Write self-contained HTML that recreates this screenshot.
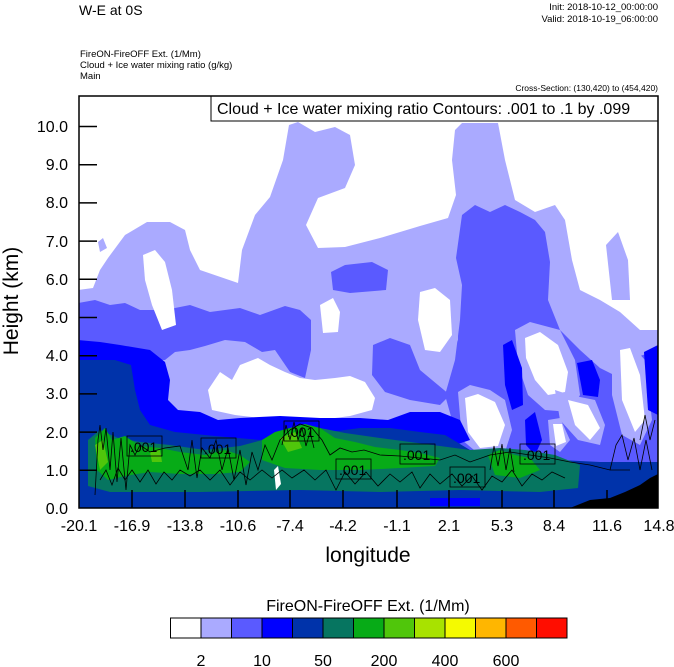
<!DOCTYPE html>
<html><head><meta charset="utf-8"><style>
html,body{margin:0;padding:0;background:#fff;}
svg{display:block;font-family:"Liberation Sans",sans-serif;}
</style></head><body>
<svg width="674" height="667" viewBox="0 0 674 667" xmlns="http://www.w3.org/2000/svg">
<defs><clipPath id="c"><rect x="79" y="96" width="579" height="412"/></clipPath></defs>
<text x="79" y="15" font-size="14">W-E at 0S</text>
<text x="658" y="10" font-size="9.5" text-anchor="end">Init: 2018-10-12_00:00:00</text>
<text x="658" y="22" font-size="9.5" text-anchor="end">Valid: 2018-10-19_06:00:00</text>
<text x="80" y="57" font-size="9.5">FireON-FireOFF Ext.   (1/Mm)</text>
<text x="80" y="68" font-size="9.5">Cloud + Ice water mixing ratio   (g/kg)</text>
<text x="80" y="79" font-size="9.5">Main</text>
<text x="658" y="91" font-size="8.5" text-anchor="end">Cross-Section: (130,420) to (454,420)</text>
<g clip-path="url(#c)">
<rect x="79" y="96" width="579" height="412" fill="#fff"/>
<!-- lavender -->
<path fill="#aaaaff" d="M78,290 L93,288 L100,270 L108,258 L125,235 L147,222 L170,222 L185,230 L190,250 L200,270 L238,283 L242,250 L255,215 L270,197 L283,160 L289,125 L298,122 L315,132 L335,127 L350,135 L355,165 L345,188 L318,198 L306,225 L318,248 L345,247 L380,238 L420,226 L448,218 L456,195 L452,160 L455,130 L462,123 L498,123 L505,160 L515,200 L535,212 L555,205 L565,220 L572,260 L580,290 L600,300 L620,312 L640,330 L658,330 L658,508 L78,508 Z"/>
<path fill="#aaaaff" d="M606,245 L618,232 L628,260 L630,300 L612,300 Z"/>
<path fill="#aaaaff" d="M98,242 L103,238 L107,248 L100,252 Z"/>
<!-- medium blue -->
<path fill="#5a5aff" d="M78,303 L95,300 L110,305 L125,303 L140,310 L165,310 L190,305 L210,312 L240,308 L260,315 L285,306 L300,310 L311,320 L311,350 L305,378 L290,372 L275,350 L262,352 L245,342 L225,340 L205,346 L190,350 L175,352 L165,360 L78,360 Z"/>
<path fill="#5a5aff" d="M331,272 L345,265 L372,262 L388,270 L386,290 L350,293 L333,290 Z"/>
<path fill="#5a5aff" d="M462,215 L475,205 L490,212 L505,205 L520,212 L535,220 L545,232 L550,262 L548,300 L560,330 L580,350 L600,368 L620,378 L640,356 L658,350 L658,470 L460,470 L452,420 L445,395 L455,360 L460,320 L462,285 L456,258 Z"/>
<path fill="#5a5aff" d="M373,345 L390,338 L410,345 L420,370 L438,385 L450,395 L440,405 L410,400 L385,392 L372,375 Z"/>
<!-- lavender/white holes in right -->
<path fill="#aaaaff" d="M412,282 L425,275 L445,285 L458,300 L458,340 L448,360 L425,362 L410,345 Z"/>
<path fill="#fff" d="M420,292 L435,288 L450,300 L452,335 L440,352 L425,350 L418,320 Z"/>
<path fill="#aaaaff" d="M515,330 L530,322 L560,330 L575,360 L580,395 L570,412 L545,410 L528,395 L518,365 Z"/>
<path fill="#fff" d="M525,338 L540,332 L558,345 L568,372 L565,392 L548,395 L535,380 L526,358 Z"/>
<path fill="#aaaaff" d="M555,390 L570,395 L595,400 L605,425 L600,445 L578,440 L560,420 Z"/>
<path fill="#fff" d="M568,400 L588,405 L600,428 L590,440 L575,425 Z"/>
<path fill="#aaaaff" d="M612,340 L625,338 L645,360 L652,420 L640,445 L622,435 L612,395 Z"/>
<path fill="#fff" d="M620,350 L630,348 L640,375 L645,420 L635,432 L622,400 Z"/>
<path fill="#aaaaff" d="M458,392 L470,385 L490,390 L505,400 L512,430 L505,452 L480,455 L462,440 Z"/>
<path fill="#fff" d="M465,398 L478,394 L495,402 L505,425 L498,446 L480,448 L468,432 Z"/>
<path fill="#aaaaff" d="M548,420 L560,418 L570,440 L560,452 L550,445 Z"/>
<path fill="#fff" d="M553,424 L562,424 L566,442 L556,446 Z"/>
<path fill="#0000ff" d="M503,345 L512,340 L522,368 L523,405 L512,410 L505,385 Z"/>
<path fill="#0000ff" d="M577,363 L592,360 L600,380 L598,397 L583,395 Z"/>
<path fill="#0000ff" d="M644,352 L658,345 L658,415 L648,410 Z"/>
<path fill="#0000ff" d="M525,420 L535,412 L542,440 L535,455 L526,445 Z"/>
<!-- left-center white holes -->
<path fill="#fff" d="M143,255 L155,250 L165,262 L172,290 L176,325 L162,330 L152,305 L145,280 Z"/>
<path fill="#aaaaff" d="M160,365 L178,355 L200,350 L225,345 L245,348 L262,356 L275,352 L290,372 L305,380 L320,385 L340,382 L360,380 L378,392 L385,410 L380,420 L340,425 L300,425 L250,420 L200,418 L175,412 L163,395 Z"/>
<path fill="#fff" d="M208,390 L220,372 L232,380 L240,365 L258,358 L270,365 L285,372 L300,378 L315,380 L335,378 L350,376 L365,382 L375,398 L372,410 L350,416 L320,420 L290,422 L260,418 L235,415 L212,410 Z"/>
<path fill="#fff" d="M320,305 L333,298 L340,312 L338,332 L323,333 Z"/>
<!-- blue -->
<path fill="#0000ff" d="M78,340 L100,342 L120,345 L150,350 L165,362 L170,380 L168,400 L178,410 L200,412 L218,420 L240,418 L280,416 L320,418 L360,418 L388,420 L410,412 L440,412 L460,420 L470,440 L440,450 L200,455 L78,455 Z"/>
<!-- dark blue -->
<path fill="#0033aa" d="M78,360 L115,360 L131,365 L135,390 L140,410 L150,425 L175,432 L215,436 L260,440 L300,438 L330,432 L360,428 L390,428 L420,432 L445,435 L470,450 L500,455 L530,458 L560,460 L600,462 L658,462 L658,508 L78,508 Z"/>
<!-- teal -->
<path fill="#067560" d="M88,440 L100,430 L118,438 L140,442 L170,445 L205,450 L240,446 L270,438 L295,430 L320,428 L345,433 L380,438 L410,442 L440,446 L470,450 L500,448 L525,450 L555,455 L580,465 L578,488 L540,492 L460,490 L380,492 L300,490 L200,492 L110,492 L88,486 Z"/>
<!-- green -->
<path fill="#07ab17" d="M95,438 L105,428 L112,440 L125,436 L140,446 L160,448 L180,452 L205,455 L225,450 L240,455 L250,462 L240,472 L215,474 L180,474 L150,472 L125,476 L108,480 L97,470 Z"/>
<path fill="#07ab17" d="M262,440 L275,432 L290,428 L305,424 L320,428 L335,438 L355,442 L375,447 L400,450 L420,453 L440,458 L435,466 L400,468 L360,470 L320,470 L285,468 L262,460 Z"/>
<path fill="#07ab17" d="M488,455 L500,450 L515,455 L530,458 L540,470 L520,478 L495,475 Z"/>
<path fill="#50c60b" d="M95,445 L103,440 L108,462 L100,470 Z"/>
<path fill="#50c60b" d="M280,438 L295,432 L302,448 L288,452 Z"/>
<path fill="#50c60b" d="M150,452 L160,450 L162,462 L152,462 Z"/>
<path fill="#fff" d="M274,470 L278,466 L281,484 L276,490 Z"/>
<path fill="#0000ff" d="M430,498 L480,498 L480,506 L430,506 Z"/>
<!-- terrain -->
<path fill="#000" d="M570,508 L590,500 L610,498 L625,492 L640,485 L650,478 L658,474 L658,508 Z"/>
<!-- contour lines -->
<g fill="none" stroke="#000" stroke-width="0.8">
<path d="M95,495 L98,440 L100,425 L103,450 L106,428 L110,470 L113,432 L117,482 L121,438 L126,490 L130,445 L135,455 L140,445 L150,452 L165,448 L180,446 L188,470 L192,440 L197,478 L202,448 L210,458 L216,440 L222,470 L228,448 L234,480 L240,450 L246,485 L252,452 L258,470 L265,445 L272,460 L280,440 L290,430 L300,424 L312,428 L322,440 L330,455 L340,448 L352,452 L364,450 L380,455 L400,456 L420,458 L440,460 L455,455 L470,462 L490,455 L510,452 L530,455 L550,458 L570,462 L590,465 L610,470 L630,470"/>
<path d="M100,480 L106,470 L112,485 L118,468 L125,480 L132,470 L140,482 L148,470 L156,484 L164,472 L172,480 L180,470 L190,476 L200,470 L210,480 L220,470 L230,485 L240,472 L250,480 L262,470 L272,478 L282,470 L292,478 L304,470 L315,480 L326,470 L336,490 L345,472 L355,484 L366,472 L378,486 L390,474 L400,482 L412,472 L420,488 L430,474 L440,484 L452,474 L462,486 L472,476 L482,490 L492,476 L502,482 L512,470 L522,486 L532,474 L542,480 L552,472 L565,478"/>
<path d="M282,445 L286,425 L290,440 L294,422 L298,440 L302,428 L306,446 L310,432 L314,448"/>
<path d="M490,470 L494,446 L498,466 L502,444 L506,470 L510,448 L514,472"/>
<path d="M610,470 L616,445 L622,435 L628,460 L634,438 L640,470 L646,440 L652,470"/>
<path d="M640,440 L645,415 L650,440 L655,420"/>
</g>
<g font-size="14" fill="#000">
<rect x="127" y="436" width="35" height="20" fill="none" stroke="#000" stroke-width="0.8"/><text x="130" y="452">.001</text>
<rect x="201" y="438" width="35" height="20" fill="none" stroke="#000" stroke-width="0.8"/><text x="204" y="454">.001</text>
<rect x="284" y="421" width="35" height="20" fill="none" stroke="#000" stroke-width="0.8"/><text x="287" y="437">.001</text>
<rect x="336" y="459" width="35" height="20" fill="none" stroke="#000" stroke-width="0.8"/><text x="339" y="475">.001</text>
<rect x="400" y="444" width="35" height="20" fill="none" stroke="#000" stroke-width="0.8"/><text x="403" y="460">.001</text>
<rect x="450" y="467" width="35" height="20" fill="none" stroke="#000" stroke-width="0.8"/><text x="453" y="483">.001</text>
<rect x="520" y="444" width="35" height="20" fill="none" stroke="#000" stroke-width="0.8"/><text x="523" y="460">.001</text>
</g>
</g>
<!-- legend box -->
<rect x="211" y="96" width="447" height="25" fill="#fff" stroke="#000" stroke-width="1"/>
<text x="217" y="114" font-size="16">Cloud + Ice water mixing ratio Contours: .001 to .1 by .099</text>
<!-- frame -->
<rect x="79" y="96" width="579" height="412" fill="none" stroke="#000" stroke-width="1.5"/>
<g stroke="#000" stroke-width="1.5">
<line x1="79" y1="126.5" x2="97" y2="126.5"/><line x1="79" y1="164.7" x2="97" y2="164.7"/><line x1="79" y1="202.9" x2="97" y2="202.9"/><line x1="79" y1="241.1" x2="97" y2="241.1"/><line x1="79" y1="279.3" x2="97" y2="279.3"/><line x1="79" y1="317.5" x2="97" y2="317.5"/><line x1="79" y1="355.7" x2="97" y2="355.7"/><line x1="79" y1="393.9" x2="97" y2="393.9"/><line x1="79" y1="432.1" x2="97" y2="432.1"/><line x1="79" y1="470.3" x2="97" y2="470.3"/>
<line x1="132" y1="508" x2="132" y2="490"/><line x1="185" y1="508" x2="185" y2="490"/><line x1="238" y1="508" x2="238" y2="490"/><line x1="290" y1="508" x2="290" y2="490"/><line x1="343" y1="508" x2="343" y2="490"/><line x1="397" y1="508" x2="397" y2="490"/><line x1="449" y1="508" x2="449" y2="490"/><line x1="502" y1="508" x2="502" y2="490"/><line x1="554" y1="508" x2="554" y2="490"/><line x1="607" y1="508" x2="607" y2="490"/>
</g>
<g font-size="16" text-anchor="end">
<text x="68" y="132">10.0</text><text x="68" y="170">9.0</text><text x="68" y="208">8.0</text><text x="68" y="247">7.0</text><text x="68" y="285">6.0</text><text x="68" y="323">5.0</text><text x="68" y="361">4.0</text><text x="68" y="399">3.0</text><text x="68" y="438">2.0</text><text x="68" y="476">1.0</text><text x="68" y="514">0.0</text>
</g>
<g font-size="16" text-anchor="middle">
<text x="79" y="531">-20.1</text><text x="132" y="531">-16.9</text><text x="185" y="531">-13.8</text><text x="238" y="531">-10.6</text><text x="290" y="531">-7.4</text><text x="343" y="531">-4.2</text><text x="397" y="531">-1.1</text><text x="449" y="531">2.1</text><text x="502" y="531">5.3</text><text x="554" y="531">8.4</text><text x="607" y="531">11.6</text><text x="659" y="531">14.8</text>
</g>
<text x="368" y="562" font-size="21" text-anchor="middle">longitude</text>
<text transform="translate(18,301) rotate(-90)" font-size="21" text-anchor="middle">Height (km)</text>
<!-- colorbar -->
<text x="368" y="611" font-size="16" text-anchor="middle">FireON-FireOFF Ext.  (1/Mm)</text>
<g stroke="#000" stroke-width="1">
<rect x="170.5" y="618" width="30.5" height="20" fill="#ffffff"/>
<rect x="201" y="618" width="30.5" height="20" fill="#aaaaff"/>
<rect x="231.5" y="618" width="30.5" height="20" fill="#5a5aff"/>
<rect x="262" y="618" width="30.5" height="20" fill="#0000ff"/>
<rect x="292.5" y="618" width="30.5" height="20" fill="#0033aa"/>
<rect x="323" y="618" width="30.5" height="20" fill="#067560"/>
<rect x="353.5" y="618" width="30.5" height="20" fill="#07ab17"/>
<rect x="384" y="618" width="30.5" height="20" fill="#50c60b"/>
<rect x="414.5" y="618" width="30.5" height="20" fill="#a8e200"/>
<rect x="445" y="618" width="30.5" height="20" fill="#f5fa00"/>
<rect x="475.5" y="618" width="30.5" height="20" fill="#ffb600"/>
<rect x="506" y="618" width="30.5" height="20" fill="#ff5a00"/>
<rect x="536.5" y="618" width="30.5" height="20" fill="#ff0d00"/>
</g>
<g font-size="16" text-anchor="middle">
<text x="201" y="666">2</text><text x="262" y="666">10</text><text x="323" y="666">50</text><text x="384" y="666">200</text><text x="445" y="666">400</text><text x="506" y="666">600</text>
</g>
</svg>
</body></html>
